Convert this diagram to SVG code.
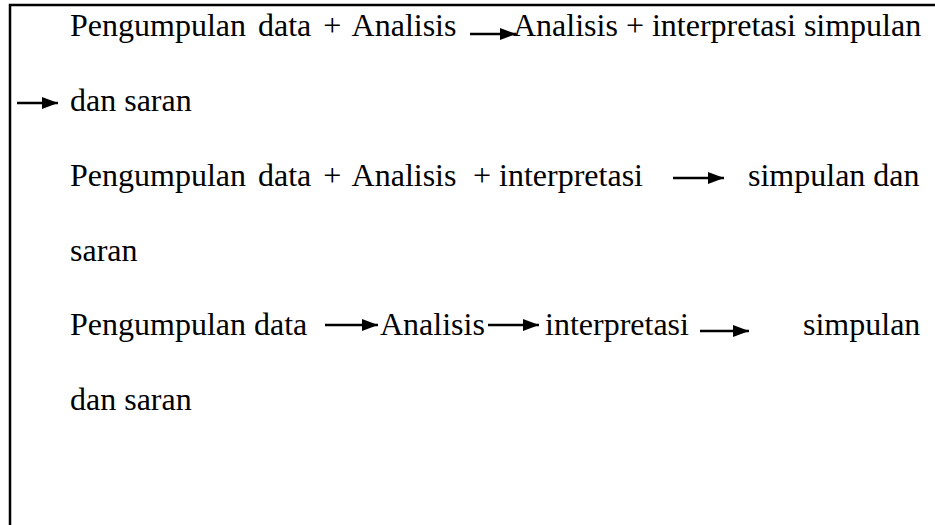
<svg xmlns="http://www.w3.org/2000/svg" width="935" height="525" viewBox="0 0 935 525">
<style>
  .t { font-family: 'Liberation Serif', 'DejaVu Serif', serif; font-size: 32px; fill: #000; }
  .conn { stroke: #000; stroke-width: 2.6; fill: none; marker-end: url(#ah); }
  .frame { stroke: #000; stroke-width: 2.5; fill: none; }
</style>
<defs>
  <marker id="ah" markerUnits="userSpaceOnUse" markerWidth="16" markerHeight="12" refX="16" refY="6" orient="auto">
    <path d="M0,0 L16,6 L0,12 z" fill="#000"/>
  </marker>
</defs>
<path class="frame" d="M10,525 V5 H935"/>

<g font-family="Liberation Serif, serif" font-size="32">
<g id="line1-a"><text class="t" x="70" y="36" word-spacing="4">Pengumpulan data + Analisis</text></g>
<g id="line1-b"><text class="t" x="513" y="36">Analisis + interpretasi simpulan</text></g>
<g id="line2"><text class="t" x="70" y="111">dan saran</text></g>
<g id="line3-a"><text class="t" x="70" y="186" word-spacing="4">Pengumpulan data + Analisis</text></g>
<g id="line3-b"><text class="t" x="473" y="186">+ interpretasi</text></g>
<g id="line3-c"><text class="t" x="748" y="186">simpulan dan</text></g>
<g id="line4"><text class="t" x="70" y="261">saran</text></g>
<g id="line5-a"><text class="t" x="70" y="335">Pengumpulan data</text></g>
<g id="line5-b"><text class="t" x="380" y="335">Analisis</text></g>
<g id="line5-c"><text class="t" x="545" y="335">interpretasi</text></g>
<g id="line5-d"><text class="t" x="803" y="335">simpulan</text></g>
<g id="line6"><text class="t" x="70" y="410">dan saran</text></g>
</g>

<g id="connectors">
  <line class="conn" x1="470" y1="34" x2="516" y2="34"/>
  <line class="conn" x1="17" y1="103" x2="58" y2="103"/>
  <line class="conn" x1="673" y1="178" x2="724" y2="178"/>
  <line class="conn" x1="325" y1="325" x2="378" y2="325"/>
  <line class="conn" x1="488" y1="325" x2="539" y2="325"/>
  <line class="conn" x1="700" y1="331" x2="749" y2="331"/>
</g>
</svg>
